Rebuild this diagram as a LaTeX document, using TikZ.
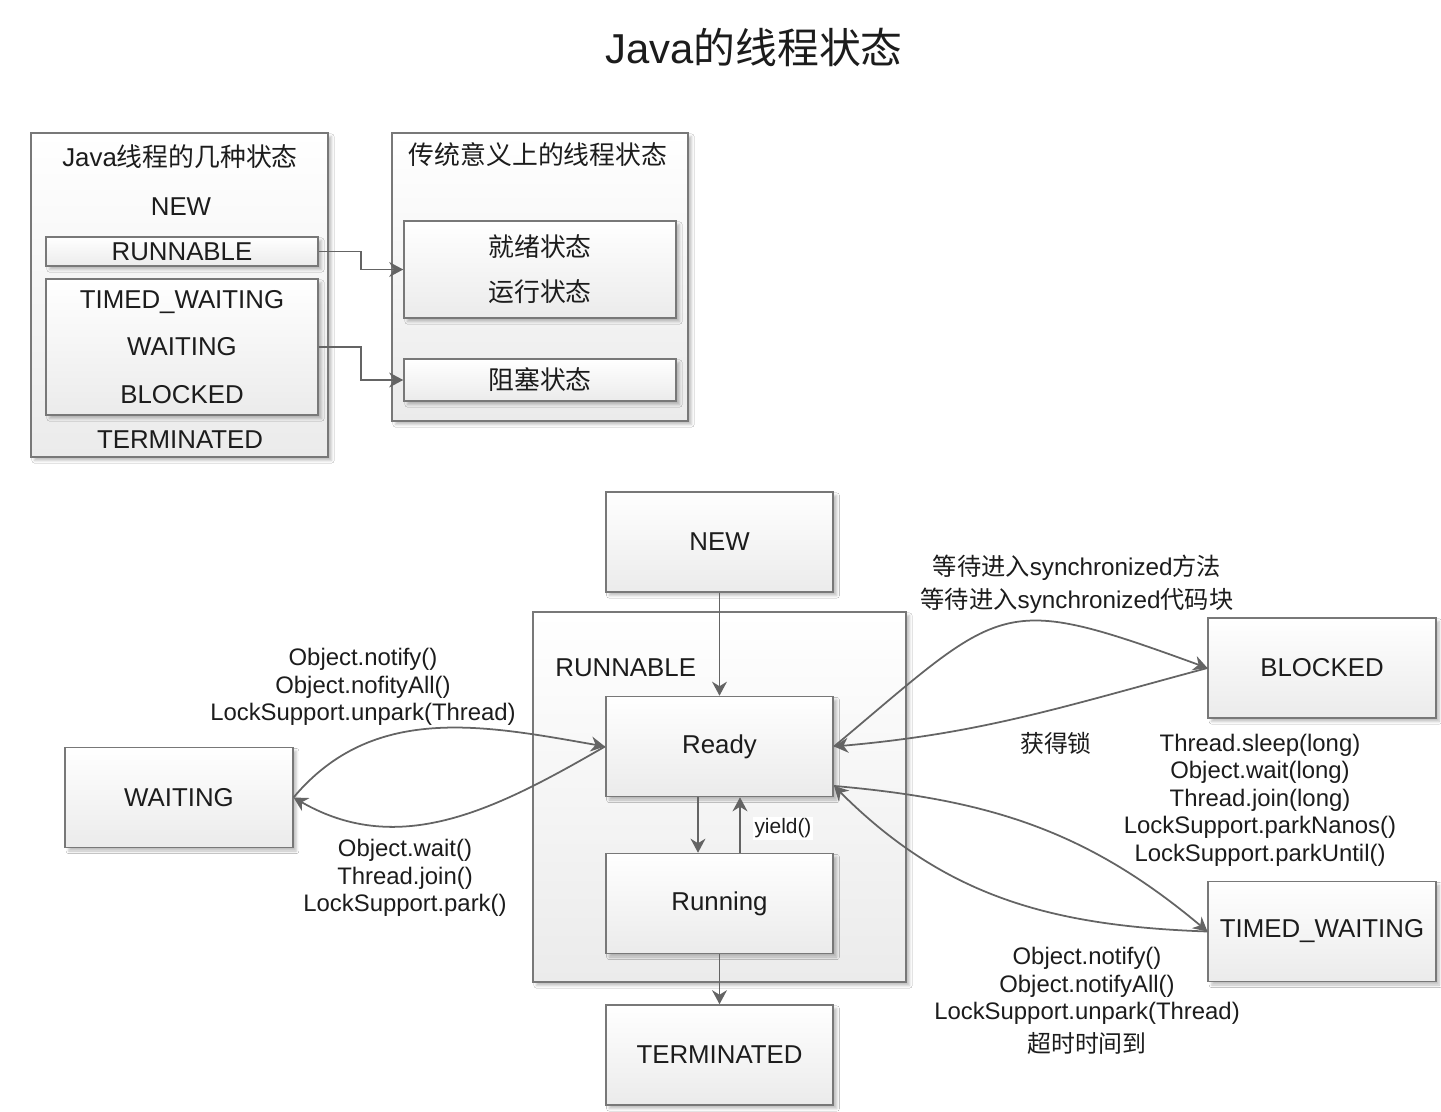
\documentclass[tikz,border=0pt]{standalone}
\usepackage{fontspec}
\setmainfont{Liberation Sans}
\newfontfamily\cjk{Noto Sans CJK SC}
\usetikzlibrary{
    arrows.meta,
    positioning,
    shadows.blur
}
\definecolor{textBlack}{RGB}{28, 28, 28}
\definecolor{borderGray}{RGB}{120, 120, 120}
\definecolor{lineGray}{RGB}{100, 100, 100}
\definecolor{fillGray}{RGB}{235, 235, 235}
\newcommand{\titleFont}{\fontsize{23.8}{28}\selectfont}
\newcommand{\stateFont}{\fontsize{14.7}{17}\selectfont}
\newcommand{\stackFont}{\fontsize{14.7}{27.2}\selectfont}
\newcommand{\pairFont}{\fontsize{14.7}{25.5}\selectfont}
\newcommand{\labelFont}{\fontsize{13.6}{15.6}\selectfont}
\newcommand{\syncFont}{\fontsize{13.8}{18.7}\selectfont}
\newcommand{\smallFont}{\fontsize{11.9}{14}\selectfont}
\tikzset{
    box/.style={
        rectangle,
        draw=borderGray,
        line width=0.9pt,
        top color=white,
        bottom color=fillGray,
        text=textBlack,
        font=\stateFont,
        inner sep=0pt,
        blur shadow={shadow xshift=2pt, shadow yshift=-2pt, shadow blur radius=1.5pt, shadow opacity=25}
    },
    state/.style={
        box,
        minimum width=4.55cm,
        minimum height=2cm
    },
    txt/.style={
        text=textBlack,
        font=\stateFont,
        inner sep=0pt,
        align=center
    },
    edgeLabel/.style={
        text=textBlack,
        font=\labelFont,
        inner sep=0pt,
        align=center
    },
    connector/.style={
        draw=lineGray,
        line width=1pt,
        -{Stealth[length=8pt, width=8.5pt]}
    }
}

\begin{document}
\begin{tikzpicture}[x=0.02cm, y=-0.02cm]
    \fill[white] (0,0) rectangle (1441,1112);
    \useasboundingbox (0,0) rectangle (1441,1112);

    \node[font=\titleFont, text=textBlack] (title) at (754,47) {Java{\cjk 的线程状态}};

    % Java states vs. traditional states
    \node[box, minimum width=5.94cm, minimum height=6.48cm] (javaStates) at (179.5,295) {};
    \node[txt] (javaTitle) at (180,157) {Java{\cjk 线程的几种状态}};
    \node[txt] (jNew) at (181,207) {NEW};
    \node[box, minimum width=5.44cm, minimum height=0.58cm] (jRunnable) at (182,251.5) {RUNNABLE};
    \node[box, minimum width=5.44cm, minimum height=2.72cm, align=center, font=\stackFont] (jWaiting) at (182,347) {TIMED\_WAITING\\WAITING\\BLOCKED};
    \node[txt] (jTerminated) at (180,440) {TERMINATED};

    \node[box, minimum width=5.92cm, minimum height=5.76cm] (tradStates) at (540,277) {};
    \node[txt, font=\stateFont\cjk] (tradTitle) at (538,155) {传统意义上的线程状态};
    \node[box, minimum width=5.44cm, minimum height=1.94cm, align=center, font=\pairFont\cjk] (tReady) at (540,269.5) {就绪状态\\运行状态};
    \node[box, minimum width=5.44cm, minimum height=0.84cm, font=\stateFont\cjk] (tBlocked) at (540,380) {阻塞状态};

    \draw[connector] (jRunnable.east) -- ++(42,0) |- (tReady.west);
    \draw[connector] (jWaiting.east) -- ++(42,0) |- (tBlocked.west);

    % State transitions
    \node[box, minimum width=7.46cm, minimum height=7.4cm] (runnableGroup) at (719.5,797) {};
    \node[txt, anchor=west] (runnableLabel) at (555,668) {RUNNABLE};
    \node[state] (new) at (719.5,542) {NEW};
    \node[state] (ready) at (719.5,746.5) {Ready};
    \node[state] (running) at (719.5,903.5) {Running};
    \node[state] (terminated) at (719.5,1055) {TERMINATED};
    \node[state] (waiting) at (179,797.5) {WAITING};
    \node[state] (blocked) at (1322,668) {BLOCKED};
    \node[state] (timedWaiting) at (1322,931.5) {TIMED\_WAITING};

    \draw[connector] (new) -- (ready);
    \draw[connector] ([xshift=-0.43cm]ready.south) -- ([xshift=-0.43cm]running.north);
    \draw[connector] ([xshift=0.41cm]running.north) -- ([xshift=0.41cm]ready.south);
    \node[fill=white, inner sep=1pt, font=\smallFont, text=textBlack] (yieldLabel) at (783,828) {yield()};
    \draw[connector] (running) -- (terminated);

    \draw[connector] (waiting.east) to[out=50, in=170] (ready.west);
    \draw[connector] (ready.west) to[out=210, in=-30] (waiting.east);
    \draw[connector] (ready.east) to[out=40, in=160, looseness=1.5] (blocked.west);
    \draw[connector] (blocked.west) to[out=195, in=5] (ready.east);
    \draw[connector] (ready.-19) to[out=-5, in=140] (timedWaiting.west);
    \draw[connector] (timedWaiting.west) to[out=178, in=-45] (ready.-19);

    \node[edgeLabel] (waitInLabel) at (363,687) {Object.notify()\\Object.nofityAll()\\LockSupport.unpark(Thread)};
    \node[edgeLabel] (waitOutLabel) at (405,878) {Object.wait()\\Thread.join()\\LockSupport.park()};
    \node[edgeLabel, font=\syncFont] (syncLabel) at (1077,584) {{\cjk 等待进入}synchronized{\cjk 方法}\\{\cjk 等待进入}synchronized{\cjk 代码块}};
    \node[edgeLabel, font=\labelFont\cjk] (lockLabel) at (1056,743) {获得锁};
    \node[edgeLabel] (timedInLabel) at (1260,800) {Thread.sleep(long)\\Object.wait(long)\\Thread.join(long)\\LockSupport.parkNanos()\\LockSupport.parkUntil()};
    \node[edgeLabel] (timedOutLabel) at (1087,1001) {Object.notify()\\Object.notifyAll()\\LockSupport.unpark(Thread)\\[3pt]{\cjk 超时时间到}};
\end{tikzpicture}
\end{document}
